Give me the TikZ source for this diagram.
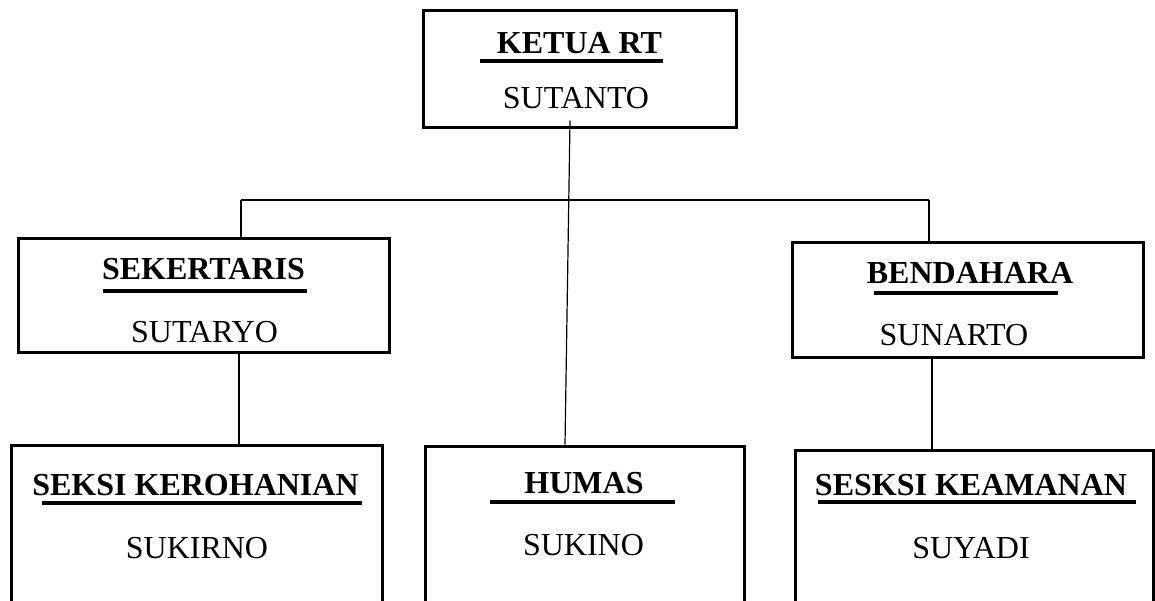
\documentclass[tikz,border=0pt]{standalone}
\usepackage{fontspec}
\setmainfont{Liberation Serif}
\usetikzlibrary{fit,calc}
\begin{document}
\begin{tikzpicture}[x=0.5pt,y=-0.5pt,
  orgbox/.style={draw,line width=1.5pt,inner sep=0pt},
  ttltext/.style={anchor=base,inner sep=0pt,font=\fontsize{16}{19}\selectfont\bfseries},
  nmtext/.style={anchor=base,inner sep=0pt,font=\fontsize{16}{19}\selectfont},
  uline/.style={line width=2pt},
  conn/.style={line width=0.6pt}]
\useasboundingbox (0,0) rectangle (1155,600);
\clip (0,0) rectangle (1155,600);
% boxes
\node[orgbox,fit={(423,10) (736,127)}] (ketua) {};
\node[orgbox,fit={(18,238) (389,352)}] (sek) {};
\node[orgbox,fit={(792,242) (1143,357)}] (bend) {};
\node[orgbox,fit={(11,445) (382,660)}] (ker) {};
\node[orgbox,fit={(425,446) (744,660)}] (humas) {};
\node[orgbox,fit={(795,450) (1153,660)}] (keam) {};
% texts
\node[ttltext] (t1) at (579.5,53) {KETUA RT};
\node[nmtext] (n1) at (576,108) {SUTANTO};
\node[ttltext] (t2) at (203.5,279) {SEKERTARIS};
\node[nmtext] (n2) at (204.5,342) {SUTARYO};
\node[ttltext] (t3) at (970,283) {BENDAHARA};
\node[nmtext] (n3) at (954,345) {SUNARTO};
\node[ttltext] (t4) at (195.5,495) {SEKSI KEROHANIAN};
\node[nmtext] (n4) at (197,558) {SUKIRNO};
\node[ttltext] (t5) at (584,493) {HUMAS};
\node[nmtext] (n5) at (583.5,555) {SUKINO};
\node[ttltext] (t6) at (971,495) {SESKSI KEAMANAN};
\node[nmtext] (n6) at (971,558) {SUYADI};
% underlines
\draw[uline] (480,61) -- (663,61);
\draw[uline] (103,291) -- (307,291);
\draw[uline] (874,293) -- (1058,293);
\draw[uline] (42,503) -- (362,503);
\draw[uline] (490,502) -- (675,502);
\draw[uline] (818,502) -- (1136,502);
% connectors
\draw[conn] ([xshift=-4.75pt,yshift=4pt]ketua.south) -- ([xshift=-9.75pt]humas.north);
\coordinate (busL) at (241,200);
\coordinate (busR) at (929,200);
\draw[conn] (busL) -- (busR);
\draw[conn] (busL) -- (busL |- sek.north);
\draw[conn] (busR) -- (busR |- bend.north);
\draw[conn] ([xshift=17.75pt]sek.south) coordinate (a) -- (a |- ker.north);
\draw[conn] ([xshift=-17.75pt]bend.south) coordinate (b) -- (b |- keam.north);
\end{tikzpicture}
\end{document}
